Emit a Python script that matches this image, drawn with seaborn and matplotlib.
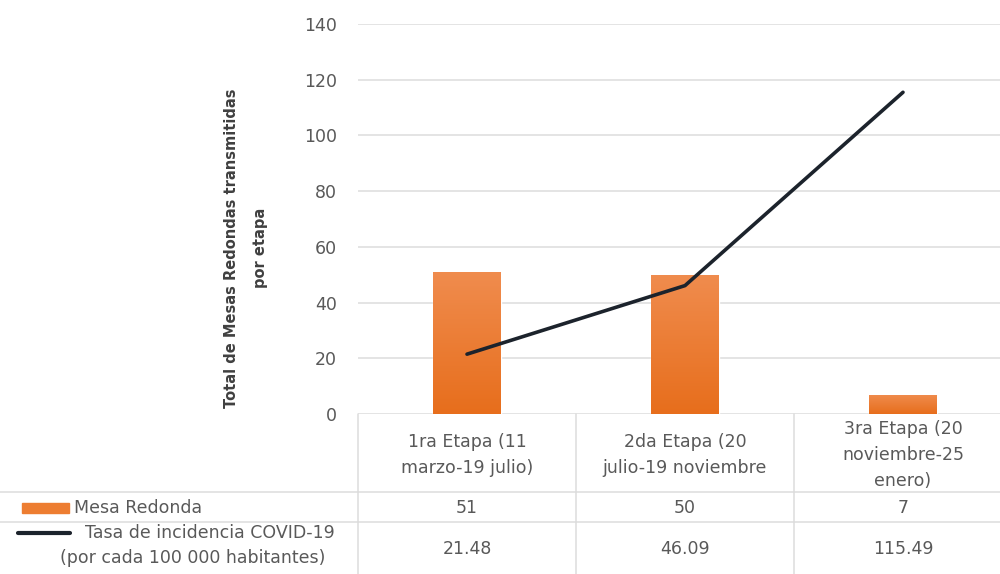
import numpy as np
import pandas as pd
import matplotlib
matplotlib.use("Agg")
import matplotlib.pyplot as plt
import matplotlib.transforms as mtransforms
from matplotlib.colors import LinearSegmentedColormap
from matplotlib.patches import Rectangle
from matplotlib.lines import Line2D
import seaborn as sns

# --- data ---
etapas = [
    "1ra Etapa (11\nmarzo-19 julio)",
    "2da Etapa (20\njulio-19 noviembre",
    "3ra Etapa (20\nnoviembre-25\nenero)",
]
mesa_redonda = [51, 50, 7]
tasa_incidencia = [21.48, 46.09, 115.49]
tasa_labels = ["21.48", "46.09", "115.49"]
y_ticks = [0, 20, 40, 60, 80, 100, 120, 140]

serie_barras = "Mesa Redonda"
serie_linea = ["Tasa de incidencia COVID-19", "(por cada 100 000 habitantes)"]
y_label = "Total de Mesas Redondas transmitidas\npor etapa"

df = pd.DataFrame({
    "idx": range(len(etapas)),
    "etapa": etapas,
    "mesa": mesa_redonda,
    "tasa": tasa_incidencia,
})

sns.set_theme(style="white")
plt.rcParams["font.family"] = ["DejaVu Sans"]

ORANGE = "#ED7D31"
LINE = "#1C232C"
GRID = "#DCDCDC"
TXT = "#595959"
FS = 12.5

W, H = 1000, 574
fig = plt.figure(figsize=(10, 5.74), dpi=100)
# plot area: left edge 358px, categories 218px wide (right part cut off), y 0 at 414px, 140 at 24px
ax = fig.add_axes([358 / W, (H - 414) / H, 654 / W, 390 / H])

sns.barplot(data=df, x="idx", y="mesa", color=ORANGE, width=0.31,
            saturation=1, ax=ax, zorder=2)
sns.lineplot(data=df, x="idx", y="tasa", color=LINE, linewidth=2.6,
             sort=False, ax=ax, zorder=3)

# subtle vertical gradient on the bars like the original
cmap = LinearSegmentedColormap.from_list("g", ["#E76E1C", "#F08C4E"])
grad = np.linspace(0, 1, 256).reshape(-1, 1)
for p in list(ax.patches):
    x0, y0 = p.get_x(), p.get_y()
    w, h = p.get_width(), p.get_height()
    im = ax.imshow(grad, cmap=cmap, origin="lower", aspect="auto",
                   extent=[x0, x0 + w, y0, y0 + h], zorder=2.1)
    im.set_clip_path(p)

ax.set_xlim(-0.5, 2.5)
ax.set_ylim(0, 140)
ax.set_yticks(y_ticks)
ax.set_xticks([])
ax.set_xlabel("")
ax.set_ylabel("")
ax.tick_params(axis="y", length=0, pad=15, labelsize=FS, labelcolor=TXT)
ax.grid(axis="y", color=GRID, linewidth=1.1, zorder=0)
ax.set_axisbelow(True)
for s in ax.spines.values():
    s.set_visible(False)

fy = lambda py: (H - py) / H

# y axis title (sits lower than the axes centre in the original)
fig.text(246 / W, fy(248), y_label, rotation=90, ha="center", va="center",
         fontsize=10.5, fontweight="bold", color="#404040", linespacing=2.1)

# --- data table under the chart ---
tr = mtransforms.blended_transform_factory(ax.transData, fig.transFigure)

# grid lines of the table
for xb in [-0.5, 0.5, 1.5, 2.5]:
    ax.add_line(Line2D([xb, xb], [fy(414), fy(574)], transform=tr, color=GRID,
                       linewidth=1.1, clip_on=False))
for py in [492, 522]:
    fig.add_artist(Line2D([0, 1], [fy(py), fy(py)], transform=fig.transFigure,
                          color=GRID, linewidth=1.1))

for i, lab in enumerate(etapas):
    ax.text(i, fy(455), lab, transform=tr, ha="center", va="center",
            fontsize=FS, color=TXT, linespacing=1.6)
    ax.text(i, fy(508), str(mesa_redonda[i]), transform=tr, ha="center",
            va="center", fontsize=FS, color=TXT)
    ax.text(i, fy(549), tasa_labels[i], transform=tr, ha="center",
            va="center", fontsize=FS, color=TXT)

# legend keys in the row headers
fig.add_artist(Rectangle((22 / W, fy(513)), 47 / W, 10 / H,
                         transform=fig.transFigure, color=ORANGE))
fig.text(74 / W, fy(508), serie_barras, ha="left", va="center",
         fontsize=FS, color=TXT)
fig.add_artist(Line2D([18 / W, 70 / W], [fy(533), fy(533)],
                      transform=fig.transFigure, color=LINE, linewidth=3))
fig.text(210 / W, fy(533), serie_linea[0], ha="center", va="center",
         fontsize=FS, color=TXT)
fig.text(193 / W, fy(558), serie_linea[1], ha="center", va="center",
         fontsize=FS, color=TXT)

fig.savefig("out.png", dpi=100)
